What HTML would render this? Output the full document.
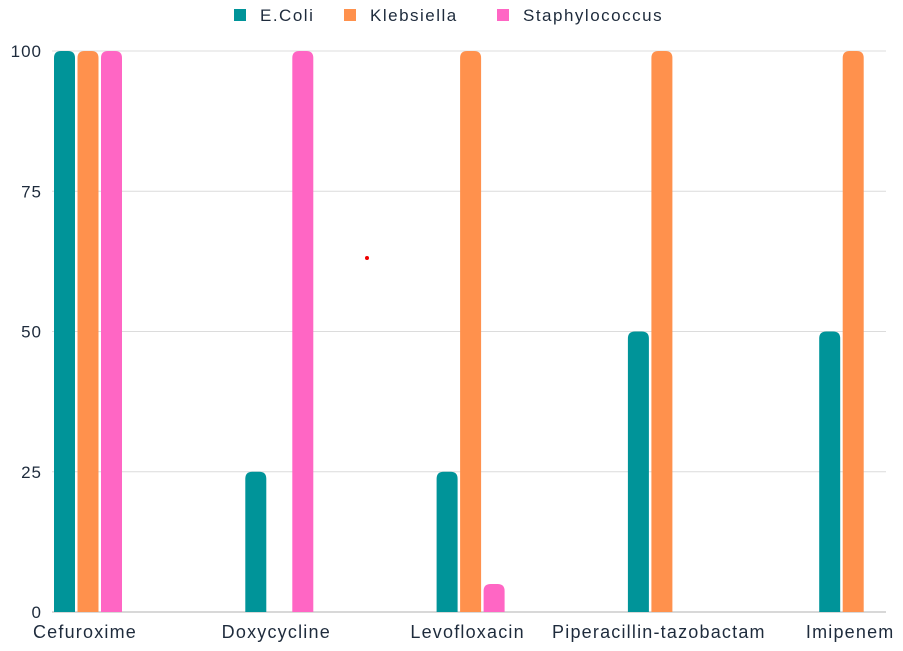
<!DOCTYPE html>
<html><head><meta charset="utf-8"><style>
body{margin:0;background:#fff;width:903px;height:646px;overflow:hidden;font-family:"Liberation Sans",sans-serif;}
svg text{font-family:"Liberation Sans",sans-serif;fill:#1e2b3c;}
</style></head><body>
<svg id="chart" width="903" height="646" xmlns="http://www.w3.org/2000/svg"></svg>
<script>
const categories = ["Cefuroxime","Doxycycline","Levofloxacin","Piperacillin-tazobactam","Imipenem"];
const seriesNames = ["E.Coli","Klebsiella","Staphylococcus"];
const ecoli = [100,25,25,50,50];
const klebsiella = [100,0,100,100,100];
const staph = [100,100,5,0,0];
const yTicks = [0,25,50,75,100];
const colors = ["#009499","#ff914d","#ff66c4"];
const series = [ecoli, klebsiella, staph];

const NS = "http://www.w3.org/2000/svg";
const svg = document.getElementById("chart");
const x0 = 52, x1 = 886, yTop = 51, yBot = 612, groupW = 191.3, barW = 21, barGap = 2.5;
function yScale(v){ return yBot - (v/100)*(yBot-yTop); }
function xGroup(i){ return x0 + 2 + i*groupW; }
function mk(tag, attrs){ const e = document.createElementNS(NS, tag); for (const k in attrs) e.setAttribute(k, attrs[k]); svg.appendChild(e); return e; }

yTicks.forEach(t => {
  const y = yScale(t);
  const g = mk("line", {x1:x0, x2:x1, y1:y, y2:y, stroke: t===0 ? "#b0b0b0" : "#dcdcdc", "stroke-width":1});
  
  
  const l = mk("text", {x:42, y:y+6, "text-anchor":"end", "font-size":17, "letter-spacing":1});
  l.textContent = t;
  
  
});

categories.forEach((c, i) => {
  series.forEach((s, j) => {
    const v = s[i];
    if (v <= 0) return;
    const x = xGroup(i) + j*(barW+barGap);
    const y = yScale(v), h = yBot - y, r = Math.min(7, h/2);
    const d = `M${x},${yBot} L${x},${y+r} Q${x},${y} ${x+r},${y} L${x+barW-r},${y} Q${x+barW},${y} ${x+barW},${y+r} L${x+barW},${yBot} Z`;
    const b = mk("path", {d, fill: colors[j]});
    
    
  });
  const t = mk("text", {x: xGroup(i) + 1.5*barW + barGap - 3, y: 638, "text-anchor":"middle", "font-size":18, "letter-spacing":1.2});
  t.textContent = c;
  
  
});

const legendX = [234, 344, 497];
seriesNames.forEach((n, j) => {
  const r = mk("rect", {x: legendX[j], y: 9, width: 12, height: 12, fill: colors[j]});
  
  
  const t = mk("text", {x: legendX[j] + 26, y: 21, "font-size":17, "letter-spacing":1.5});
  t.textContent = n;
  
  
});
const dot = mk("circle", {cx:367, cy:258, r:2, fill:"#e00"});


</script>
</body></html>
